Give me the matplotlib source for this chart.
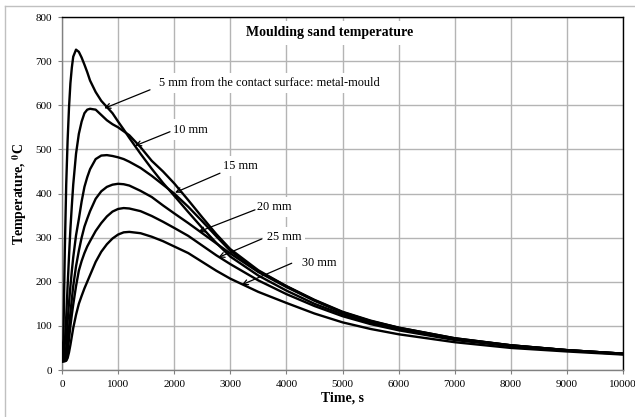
import numpy as np
import matplotlib.pyplot as plt
from matplotlib.lines import Line2D

# Time points (s)
time = [0, 25, 50, 75, 100, 125, 150, 175, 200, 250, 300, 350, 400, 450, 500,
        600, 700, 800, 900, 1000, 1100, 1200, 1400, 1600, 1800, 2000, 2250,
        2500, 2750, 3000, 3500, 4000, 4500, 5000, 5500, 6000, 7000, 8000,
        9000, 10000]

# Temperatures (deg C) for each distance from the contact surface
t_5mm = [20, 70, 270, 420, 520, 595, 650, 685, 710, 726, 721, 708, 692, 675, 656,
         630, 610, 596, 582, 563, 545, 526, 490, 456, 424, 395, 358,
         322, 288, 257, 214, 180, 150, 126, 107, 92, 70, 55,
         45, 37]
t_10mm = [20, 25, 60, 120, 190, 258, 320, 372, 420, 490, 535, 563, 582, 590, 592,
          590, 578, 566, 557, 550, 541, 532, 505, 474, 450, 423, 385,
          346, 308, 274, 226, 190, 159, 132, 112, 96, 72, 56,
          45, 37]
t_15mm = [20, 20, 25, 50, 110, 152, 190, 224, 255, 305, 342, 382, 415, 437, 455,
          478, 486, 487, 485, 482, 478, 472, 458, 440, 420, 400, 370,
          337, 303, 270, 224, 190, 158, 131, 111, 96, 72, 56,
          45, 37]
t_20mm = [20, 20, 21, 30, 60, 95, 130, 160, 190, 235, 270, 300, 325, 343, 360,
          388, 405, 415, 420, 422, 421, 418, 406, 392, 373, 355, 333,
          310, 287, 264, 222, 188, 157, 130, 110, 95, 71, 56,
          45, 37]
t_25mm = [20, 20, 20, 22, 40, 70, 100, 125, 148, 190, 225, 247, 265, 280, 292,
          315, 333, 348, 359, 365, 367, 366, 360, 349, 336, 322, 304,
          282, 260, 240, 203, 172, 145, 122, 104, 90, 68, 54,
          44, 36]
t_30mm = [20, 20, 20, 21, 27, 40, 57, 76, 95, 125, 150, 168, 185, 200, 215,
          245, 268, 285, 298, 307, 312, 313, 310, 302, 292, 280, 265,
          245, 225, 207, 177, 152, 128, 108, 93, 81, 63, 50,
          42, 35]

series = [t_5mm, t_10mm, t_15mm, t_20mm, t_25mm, t_30mm]

# label text, text position, arrow start, arrow tip (data units)
labels = ['5 mm from the contact surface: metal-mould', '10 mm', '15 mm',
          '20 mm', '25 mm', '30 mm']
label_xy = [(1729, 650), (1979, 545), (2870, 462), (3470, 370), (3649, 302), (4273, 242)]
arrow_from = [(1569, 635), (1925, 540), (2816, 446), (3440, 363), (3560, 297), (4095, 242)]
arrow_to = [(754, 593), (1301, 508), (2014, 402), (2430, 313), (2786, 255), (3203, 193)]

plt.rcParams['font.family'] = ['Liberation Serif', 'DejaVu Serif']
plt.rcParams['mathtext.fontset'] = 'stix'

fig = plt.figure(figsize=(6.35, 4.17), dpi=100)
ax = fig.add_axes([62 / 635, 1 - 370 / 417, 561 / 635, 353 / 417])

for s in series:
    ax.plot(time, s, color='black', lw=1.7, zorder=4, solid_joinstyle='round')

ax.set_xlim(0, 10000)
ax.set_ylim(0, 800)
ax.set_xticks(np.arange(0, 10001, 1000))
ax.set_yticks(np.arange(0, 801, 100))
ax.grid(True, color='#b4b4b4', lw=1.0, zorder=0)
ax.set_axisbelow(True)
ax.tick_params(labelsize=8, length=3, color='#808080', pad=4)

for side in ['top', 'right']:
    ax.spines[side].set_color('black')
    ax.spines[side].set_linewidth(1.0)
for side in ['left', 'bottom']:
    ax.spines[side].set_color('#808080')
    ax.spines[side].set_linewidth(1.0)

ax.set_xlabel('Time, s', fontsize=10, fontweight='bold', labelpad=2)
ax.set_ylabel(r'Temperature, $^{\mathbf{0}}$C', fontsize=10, fontweight='bold', labelpad=5)

ax.text(4777, 764, 'Moulding sand temperature', fontsize=10, fontweight='bold',
        ha='center', va='center', zorder=3,
        bbox=dict(facecolor='white', edgecolor='none', pad=4))

for lab, xy, a0, a1 in zip(labels, label_xy, arrow_from, arrow_to):
    ax.text(xy[0], xy[1], lab, fontsize=8.8, ha='left', va='center', zorder=3,
            bbox=dict(facecolor='white', edgecolor='none', pad=3))
    ax.annotate('', xy=a1, xytext=a0, zorder=5,
                arrowprops=dict(arrowstyle='->', lw=0.9, color='black',
                                shrinkA=0, shrinkB=0, mutation_scale=9))

# outer chart border (only left and top edges are visible)
fig.add_artist(Line2D([5 / 635, 5 / 635], [0, 1 - 6 / 417], color='#c0c0c0', lw=1.0))
fig.add_artist(Line2D([5 / 635, 1], [1 - 6 / 417, 1 - 6 / 417], color='#c0c0c0', lw=1.0))

fig.savefig('out.png', dpi=100)
